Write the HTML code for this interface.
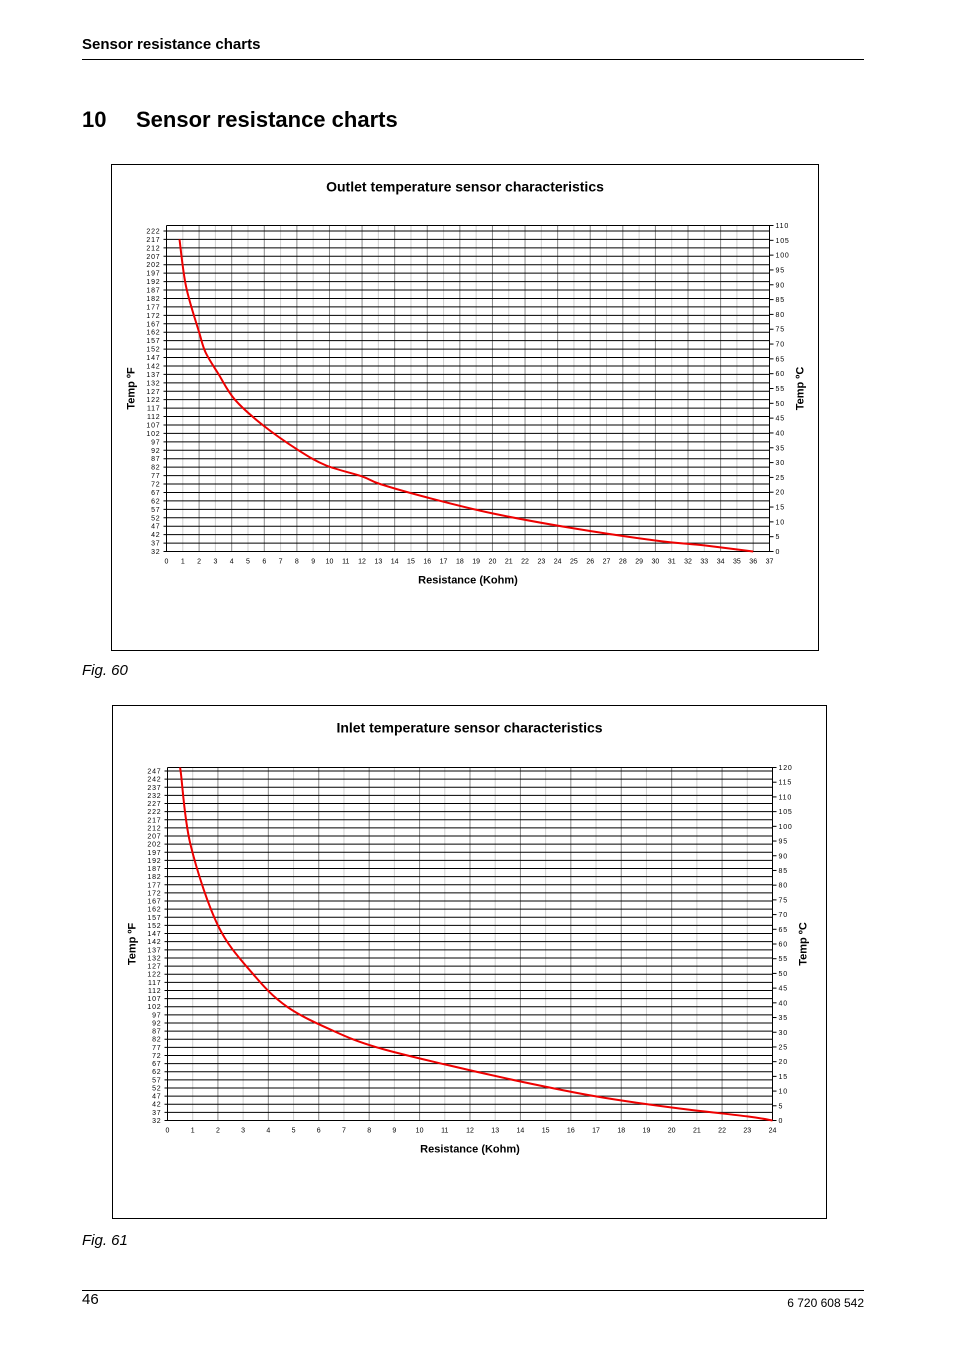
<!DOCTYPE html>
<html><head><meta charset="utf-8"><style>
body{margin:0;background:#fff;}
#page{position:relative;width:954px;height:1350px;font-family:"Liberation Sans",sans-serif;color:#000;overflow:hidden;}
.abs{position:absolute;}
</style></head><body>
<div id="page">
<div class="abs" style="left:82px;top:36px;font-size:15px;font-weight:bold">Sensor resistance charts</div>
<div class="abs" style="left:82px;top:59px;width:782px;height:1px;background:#000"></div>
<div class="abs" style="left:82px;top:107px;font-size:22px;font-weight:bold">10</div>
<div class="abs" style="left:136px;top:107px;font-size:22px;font-weight:bold">Sensor resistance charts</div>
<div class="abs" style="left:82px;top:662px;font-size:15px;font-style:italic">Fig. 60</div>
<div class="abs" style="left:82px;top:1232px;font-size:15px;font-style:italic">Fig. 61</div>
<div class="abs" style="left:82px;top:1290px;width:782px;height:1px;background:#000"></div>
<div class="abs" style="left:82px;top:1291px;font-size:15px">46</div>
<div class="abs" style="right:90px;top:1296px;font-size:12px">6 720 608 542</div>
<svg class="abs" style="left:0;top:0" width="954" height="1350" id="charts"></svg>
</div>
<script>
// Chart 1: outlet sensor
const outletR = [0.8, 1.2, 2.0, 2.4, 3.2, 4.2, 5.9, 8.1, 9.8, 12, 13.1, 16, 20, 25, 30, 33, 36];
const outletF = [217, 189, 162, 150, 137, 122, 107, 92, 83, 76.5, 72, 64, 54.6, 45.7, 38.5, 35.6, 32];
const outletFTicks = [];
for (let v = 32; v <= 222; v += 5) outletFTicks.push(v);
const outletCTicks = [];
for (let v = 0; v <= 110; v += 5) outletCTicks.push(v);
const outletXMax = 37;
// Chart 2: inlet sensor
const inletR = [0.45, 0.52, 0.91, 2.0, 3.4, 4.74, 6.6, 8.3, 11, 14, 17, 20, 23, 24];
const inletF = [251, 247, 202, 152, 122, 102, 87, 77, 66.5, 56, 46.8, 40, 34.5, 32];
const inletFTicks = [];
for (let v = 32; v <= 247; v += 5) inletFTicks.push(v);
const inletCTicks = [];
for (let v = 0; v <= 120; v += 5) inletCTicks.push(v);
const inletXMax = 24;

const NS = 'http://www.w3.org/2000/svg';
const svg = document.getElementById('charts');
function mk(tag, attrs, parent, text) {
  const e = document.createElementNS(NS, tag);
  for (const k in attrs) e.setAttribute(k, attrs[k]);
  if (text !== undefined) e.textContent = text;
  (parent || svg).appendChild(e);
  return e;
}
function smoothPath(pts) {
  let d = 'M' + pts[0][0].toFixed(1) + ',' + pts[0][1].toFixed(1);
  for (let i = 0; i < pts.length - 1; i++) {
    const p0 = pts[i - 1] || pts[i], p1 = pts[i], p2 = pts[i + 1], p3 = pts[i + 2] || p2;
    const c1x = p1[0] + (p2[0] - p0[0]) / 6, c1y = p1[1] + (p2[1] - p0[1]) / 6;
    const c2x = p2[0] - (p3[0] - p1[0]) / 6, c2y = p2[1] - (p3[1] - p1[1]) / 6;
    d += 'C' + c1x.toFixed(1) + ',' + c1y.toFixed(1) + ' ' + c2x.toFixed(1) + ',' + c2y.toFixed(1) + ' ' + p2[0].toFixed(1) + ',' + p2[1].toFixed(1);
  }
  return d;
}
function drawChart(c) {
  const g = mk('g', {});
  
  
  const frame = mk('rect', {x: c.fx, y: c.fy, width: c.fw, height: c.fh, fill: 'none', stroke: '#000', 'stroke-width': 1}, g);
  
  
  const t = mk('text', {x: c.fx + c.fw / 2, y: c.fy + 27, 'text-anchor': 'middle', 'font-size': 14, 'font-weight': 'bold'}, g, c.title);
  
  
  const xs = v => c.x0 + (c.x1 - c.x0) * v / c.xMax;
  const fMin = c.fTicks[0], fMax = c.fTicks[c.fTicks.length - 1];
  const ys = f => c.yB - (c.yB - c.yFT) * (f - fMin) / (fMax - fMin);
  const yc = v => c.yB - (c.yB - c.yT) * v / c.cTicks[c.cTicks.length - 1];
  for (let i = 0; i <= c.xMax; i++) {
    const l = mk('line', {x1: xs(i), x2: xs(i), y1: c.yT, y2: c.yB, stroke: i % 2 ? '#d0d0d0' : '#888', 'stroke-width': 1}, g);
    
    
    const lb = mk('text', {x: xs(i), y: c.yB + 12, 'text-anchor': 'middle', 'font-size': 7}, g, String(i));
    
    
  }
  c.fTicks.forEach(f => {
    const l = mk('line', {x1: c.x0 - 3, x2: c.x1, y1: ys(f), y2: ys(f), stroke: '#000', 'stroke-width': 1}, g);
    
    
    const lb = mk('text', {x: c.x0 - 6, y: ys(f) + 2.5, 'text-anchor': 'end', 'font-size': 7, 'letter-spacing': '0.8'}, g, String(f));
    
    
  });
  c.cTicks.forEach(v => {
    const l = mk('line', {x1: c.x1, x2: c.x1 + 4, y1: yc(v), y2: yc(v), stroke: '#000'}, g);
    
    
    const lb = mk('text', {x: c.x1 + 6, y: yc(v) + 2.5, 'font-size': 7, 'letter-spacing': '0.8'}, g, String(v));
    
    
  });
  const axes = [[c.x0, c.yT, c.x0, c.yB], [c.x0, c.yB, c.x1, c.yB], [c.x1, c.yT, c.x1, c.yB], [c.x0, c.yT, c.x1, c.yT]];
  axes.forEach(a => {
    const l = mk('line', {x1: a[0], y1: a[1], x2: a[2], y2: a[3], stroke: '#000', 'stroke-width': 1}, g);
    
    
  });
  const clip = mk('clipPath', {id: c.name + '-clip'}, g);
  mk('rect', {x: c.x0, y: c.yT, width: c.x1 - c.x0, height: c.yB - c.yT + 2}, clip);
  const pts = c.r.map((r, i) => [xs(r), ys(c.f[i])]);
  const p = mk('path', {d: smoothPath(pts), fill: 'none', stroke: '#e00', 'stroke-width': 2, 'stroke-linejoin': 'round', 'clip-path': 'url(#' + c.name + '-clip)'}, g);
  
  
  const xt = mk('text', {x: (c.x0 + c.x1) / 2, y: c.yB + 32, 'text-anchor': 'middle', 'font-size': 11, 'font-weight': 'bold'}, g, 'Resistance (Kohm)');
  
  
  const ym = (c.yT + c.yB) / 2;
  const yl = mk('text', {x: c.x0 - 32, y: ym, 'text-anchor': 'middle', 'font-size': 11, 'font-weight': 'bold', transform: 'rotate(-90 ' + (c.x0 - 32) + ' ' + ym + ')'}, g, 'Temp ºF');
  
  
  const yr = mk('text', {x: c.x1 + 34, y: ym, 'text-anchor': 'middle', 'font-size': 11, 'font-weight': 'bold', transform: 'rotate(-90 ' + (c.x1 + 34) + ' ' + ym + ')'}, g, 'Temp ºC');
  
  
}
drawChart({name: 'outlet-chart', title: 'Outlet temperature sensor characteristics', fx: 111.5, fy: 164.5, fw: 707, fh: 486,
  x0: 166.5, x1: 769.5, yT: 225.5, yB: 551.5, yFT: 231, xMax: outletXMax, fTicks: outletFTicks, cTicks: outletCTicks, r: outletR, f: outletF});
drawChart({name: 'inlet-chart', title: 'Inlet temperature sensor characteristics', fx: 112.5, fy: 705.5, fw: 714, fh: 513,
  x0: 167.5, x1: 772.5, yT: 767.5, yB: 1120.5, yFT: 771, xMax: inletXMax, fTicks: inletFTicks, cTicks: inletCTicks, r: inletR, f: inletF});
</script>
</body></html>
